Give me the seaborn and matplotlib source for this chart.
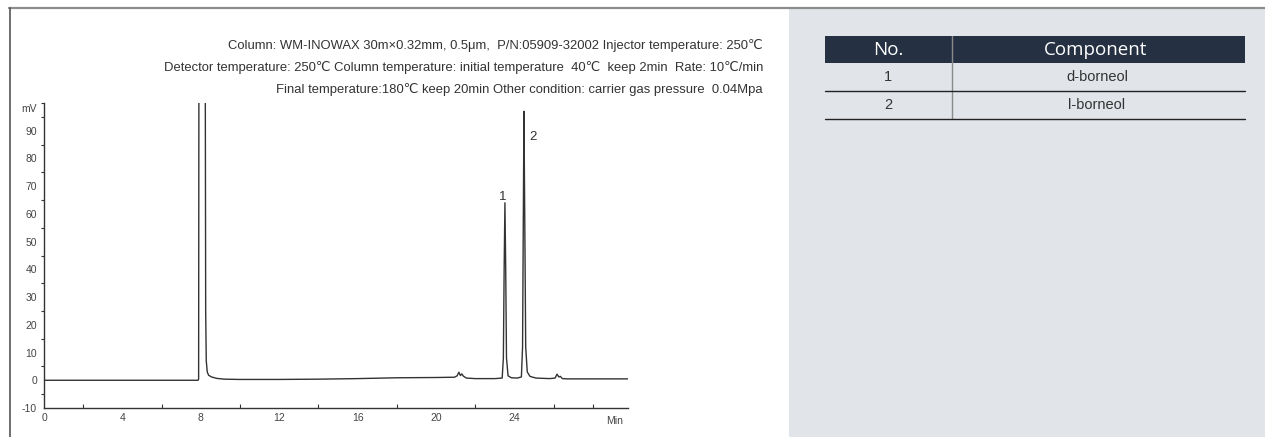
import numpy as np
import pandas as pd
import matplotlib
matplotlib.use("Agg")
import matplotlib.pyplot as plt
from matplotlib.patches import Rectangle
from matplotlib.ticker import MultipleLocator
import seaborn as sns

# ── chromatogram trace (time in min, signal in mV) ──
time_min = [0.0, 7.86, 7.89, 7.91, 8.22, 8.25, 8.28, 8.33, 8.40, 8.55, 8.80,
            9.20, 10.0, 12.0, 14.0, 16.0, 18.0, 20.0, 20.95, 21.08, 21.17,
            21.25, 21.32, 21.40, 21.55, 22.0, 23.0, 23.38, 23.44, 23.48, 23.52,
            23.56, 23.60, 23.68, 23.85, 24.15, 24.36, 24.42, 24.46, 24.49,
            24.53, 24.58, 24.66, 24.80, 25.10, 25.80, 26.08, 26.18, 26.27,
            26.35, 26.45, 26.70, 27.5, 29.8]
signal_mv = [0.0, 0.0, 0.4, 150.0, 150.0, 25.0, 7.0, 3.0, 1.8, 1.2, 0.7,
             0.4, 0.3, 0.3, 0.4, 0.6, 0.9, 1.0, 1.1, 1.6, 2.9,
             1.7, 2.3, 1.5, 0.8, 0.6, 0.6, 0.8, 8.0, 40.0, 64.0,
             40.0, 8.0, 1.6, 0.9, 0.8, 1.2, 12.0, 60.0, 97.0,
             60.0, 12.0, 3.0, 1.4, 0.8, 0.6, 0.8, 2.2, 1.2,
             1.4, 0.6, 0.5, 0.5, 0.5]

peak_ids = ["1", "2"]
peak_times = [23.50, 24.47]
peak_heights = [64.0, 97.0]
components = ["d-borneol", "l-borneol"]

conditions = [
    "Column: WM-INOWAX 30m×0.32mm, 0.5μm,  P/N:05909-32002 Injector temperature: 250℃",
    "Detector temperature: 250℃ Column temperature: initial temperature  40℃  keep 2min  Rate: 10℃/min",
    "Final temperature:180℃ keep 20min Other condition: carrier gas pressure  0.04Mpa",
]

trace = pd.DataFrame({"t": time_min, "mv": signal_mv})

sns.set_style("white")
NARROW = ["Liberation Sans Narrow", "Liberation Sans", "DejaVu Sans"]
plt.rcParams["font.family"] = NARROW
plt.rcParams["axes.unicode_minus"] = False

W, H = 1265, 437
fig = plt.figure(figsize=(W / 100, H / 100), dpi=100)
fig.patch.set_facecolor("white")

# ── background / frame / table (pixel coords) ──
bg = fig.add_axes([0, 0, 1, 1], zorder=0)
bg.set_xlim(0, W)
bg.set_ylim(H, 0)
bg.axis("off")
bg.add_patch(Rectangle((789, 9), W - 789, H - 9, color="#e1e4e9", lw=0))
bg.plot([9, W], [8, 8], color="#8c8c8c", lw=1.6)
bg.plot([9.5, 9.5], [8, H], color="#555555", lw=1.2)

bg.add_patch(Rectangle((825, 36), 420, 27, color="#253142", lw=0))
bg.plot([952, 952], [36, 119], color="#8a8a8a", lw=1)
bg.text(888, 50, "No.", color="white", fontsize=13.5, ha="center", va="center",
        family=["Open Sans", "DejaVu Sans"])
bg.text(1096, 50, "Component", color="white", fontsize=13.5, ha="center", va="center",
        family=["Open Sans", "DejaVu Sans"])
for i, (pid, comp) in enumerate(zip(peak_ids, components)):
    yc = 77 + 28 * i
    bg.text(888, yc, pid, color="#333333", fontsize=10.5, ha="center", va="center",
            family=["Liberation Sans", "DejaVu Sans"])
    bg.text(1097, yc, comp, color="#333333", fontsize=10.5, ha="center", va="center",
            family=["Liberation Sans", "DejaVu Sans"])
    bg.plot([825, 1245], [91 + 28 * i, 91 + 28 * i], color="#222222", lw=1)

# condition text lines
for i, line in enumerate(conditions):
    fig.text(763 / W, 1 - (46 + 22 * i) / H, line, ha="right", va="center",
             fontsize=9.35, color="#333333", family=NARROW)

# ── chromatogram ──
ax = fig.add_axes([44 / W, (H - 408) / H, (628 - 44) / W, (408 - 103) / H], zorder=2)
ax.set_facecolor("none")
sns.lineplot(data=trace, x="t", y="mv", ax=ax, sort=False, color="#333333",
             lw=1.0, estimator=None)
ax.set_xlim(0, 29.8)
ax.set_ylim(-10, 100)
ax.set_xlabel("")
ax.set_ylabel("")
for s in ["top", "right"]:
    ax.spines[s].set_visible(False)
for s in ["left", "bottom"]:
    ax.spines[s].set_color("#333333")
    ax.spines[s].set_linewidth(1.0)

ax.xaxis.set_minor_locator(MultipleLocator(2))
ax.yaxis.set_minor_locator(MultipleLocator(5))
ax.set_xticks([0, 4, 8, 12, 16, 20, 24])
ax.set_yticks(np.arange(-10, 100, 10))
ax.tick_params(axis="x", which="both", direction="in", length=3, width=0.8,
               color="#333333", labelsize=7.5, labelcolor="#444444", pad=3.5)
ax.tick_params(axis="y", which="major", direction="out", length=3, width=0.8,
               color="#333333", labelsize=7.5, labelcolor="#444444", pad=2)
ax.tick_params(axis="y", which="minor", direction="out", length=2, width=0.8,
               color="#333333", left=True)
ax.tick_params(axis="x", which="minor", bottom=True)

ax.annotate("Min", (29.1, -10), xytext=(0, -5.5), textcoords="offset points",
            ha="center", va="top", fontsize=7.5, color="#444444")
ax.text(-0.012, 98, "mV", transform=ax.get_yaxis_transform(), ha="right", va="center",
        fontsize=7.5, color="#444444")

label_offsets = [(-1.5, 4.5), (6.5, -18.5)]
for pid, t, h, off in zip(peak_ids, peak_times, peak_heights, label_offsets):
    ax.annotate(pid, (t, h), xytext=off, textcoords="offset points",
                ha="center", va="center", fontsize=9.5, color="#333333")

fig.savefig("out.png", dpi=100)
